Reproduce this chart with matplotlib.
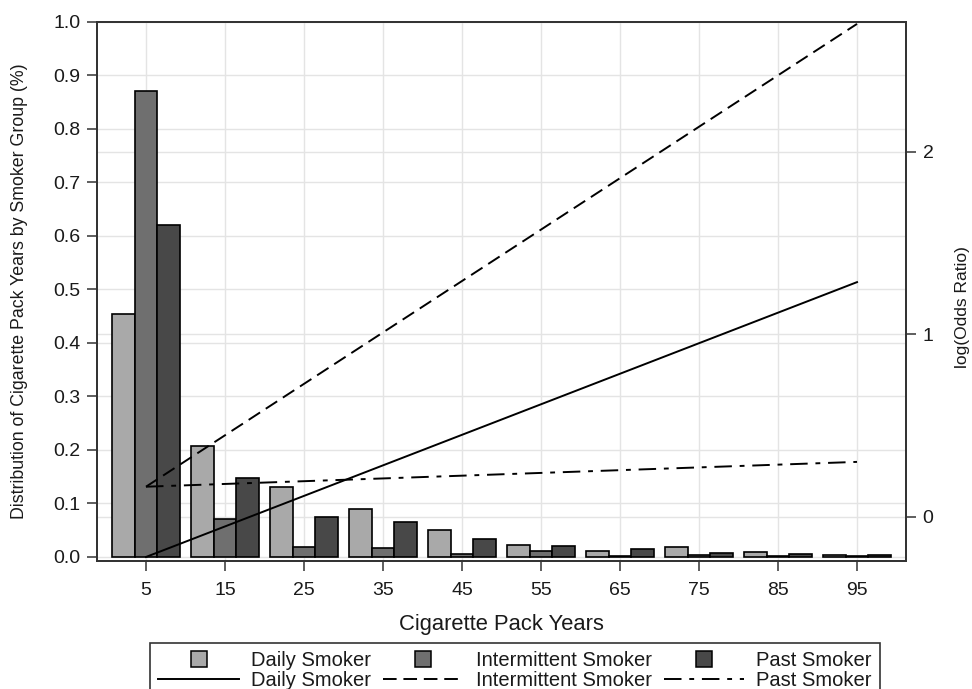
import matplotlib
matplotlib.use('Agg')
import matplotlib.pyplot as plt
from matplotlib.lines import Line2D
from matplotlib.ticker import FormatStrFormatter, MultipleLocator
from matplotlib.transforms import blended_transform_factory
import numpy as np

# ---------------- data ----------------
pack_years = [5, 15, 25, 35, 45, 55, 65, 75, 85, 95]
daily_share = [0.453, 0.207, 0.130, 0.089, 0.051, 0.023, 0.011, 0.018, 0.009, 0.003]
intermittent_share = [0.871, 0.071, 0.019, 0.016, 0.006, 0.011, 0.002, 0.003, 0.001, 0.001]
past_share = [0.620, 0.148, 0.074, 0.066, 0.034, 0.020, 0.014, 0.008, 0.005, 0.003]

line_x = [5, 95]
daily_logor = [-0.221, 1.285]
intermittent_logor = [0.164, 2.700]
past_logor = [0.164, 0.300]

group_labels = ['Daily Smoker', 'Intermittent Smoker', 'Past Smoker']
# --------------------------------------

plt.rcParams['font.family'] = ['Liberation Sans', 'DejaVu Sans']
text_color = '#1a1a1a'
spine_color = '#333333'
grid_color = '#e4e4e4'
bar_colors = ['#a9a9a9', '#6f6f6f', '#484848']

fig = plt.figure(figsize=(9.72, 6.89), dpi=100)
ax = fig.add_axes([0.0998, 0.1858, 0.8323, 0.7827])
ax2 = ax.twinx()

x = np.array(pack_years, dtype=float)
bw = 2.86
for i, (vals, col) in enumerate(zip([daily_share, intermittent_share, past_share], bar_colors)):
    ax.bar(x + (i - 1) * bw, vals, width=bw, color=col, edgecolor='black',
           linewidth=1.2, zorder=3)

ax.set_xlim(-1.2, 101.2)
ax.set_ylim(-0.0075, 1.0)
ax.set_xticks(pack_years)
ax.yaxis.set_major_locator(MultipleLocator(0.1))
ax.yaxis.set_major_formatter(FormatStrFormatter('%.1f'))
ax.set_axisbelow(True)
ax.grid(True, color=grid_color, linewidth=1.0, zorder=0)

ax2.set_ylim(-0.243, 2.712)
ax2.set_yticks([0, 1, 2])

# right-axis gridlines drawn behind bars (on the left axes)
tr = blended_transform_factory(ax.transAxes, ax2.transData)
for t in ax2.get_yticks():
    ax.plot([0, 1], [t, t], transform=tr, color=grid_color, linewidth=1.0, zorder=1)

ax2.plot(line_x, daily_logor, color='black', linewidth=1.4, linestyle='-', zorder=4)
ax2.plot(line_x, intermittent_logor, color='black', linewidth=1.4,
         linestyle=(0, (7, 3.5)), zorder=4)
ax2.plot(line_x, past_logor, color='black', linewidth=1.4,
         linestyle=(0, (9, 4, 2.5, 4)), zorder=4)

for a in (ax, ax2):
    for s in a.spines.values():
        s.set_color(spine_color)
        s.set_linewidth(1.3)
    a.tick_params(axis='both', direction='out', length=7, width=1.1,
                  colors=spine_color, labelcolor=text_color, labelsize=14, pad=5)
ax.tick_params(axis='x', pad=8)

ax.set_xlabel('Cigarette Pack Years', fontsize=15.8, color=text_color, labelpad=11)
ax.set_ylabel('Distribution of Cigarette Pack Years by Smoker Group (%)',
              fontsize=12.8, color=text_color)
ax.yaxis.set_label_coords(-0.085, 0.5)
ax2.set_ylabel('log(Odds Ratio)', fontsize=12.5, color=text_color)
ax2.yaxis.set_label_coords(1.061, 0.47)

# legend
bar_handles = [Line2D([], [], marker='s', linestyle='none', markersize=11,
                      markerfacecolor=c, markeredgecolor='black', markeredgewidth=1.1)
               for c in bar_colors]
line_handles = [Line2D([], [], color='black', linewidth=1.4, linestyle='-'),
                Line2D([], [], color='black', linewidth=1.4, linestyle=(0, (7, 3.5))),
                Line2D([], [], color='black', linewidth=1.4, linestyle=(0, (9, 4, 2.5, 4)))]
handles, labels = [], []
for bh, lh, lab in zip(bar_handles, line_handles, group_labels):
    handles += [bh, lh]
    labels += [lab, lab]
leg = fig.legend(handles, labels, ncol=3, loc='upper center',
                 bbox_to_anchor=(0.53, 0.0668), frameon=True, fancybox=False,
                 edgecolor='black', fontsize=14.5, handlelength=4.0,
                 handletextpad=0.6, columnspacing=0.6, borderpad=0.42,
                 labelspacing=0.05, borderaxespad=0)
leg.get_frame().set_linewidth(1.2)
for t in leg.get_texts():
    t.set_color(text_color)

fig.savefig('out.png', dpi=100, facecolor='white')
